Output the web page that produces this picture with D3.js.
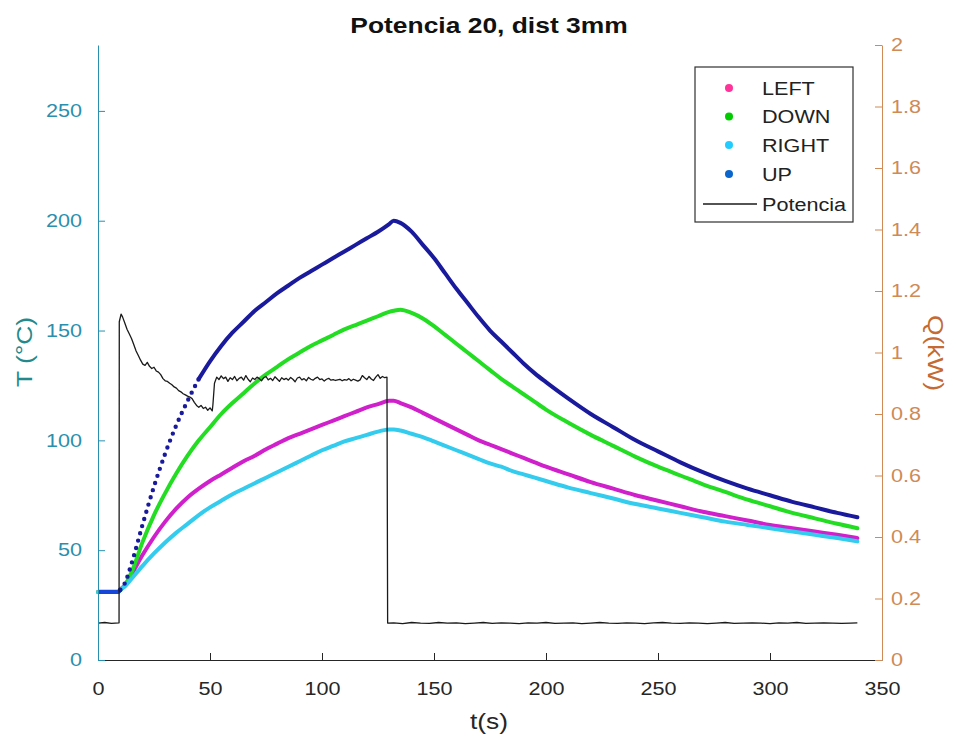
<!DOCTYPE html>
<html>
<head>
<meta charset="utf-8">
<script src="https://cdn.jsdelivr.net/npm/d3@7"></script>
<style>
  body { margin: 0; background: #fff; }
  svg { display: block; }
  text { font-family: "Liberation Sans", Arial, Helvetica, sans-serif; }
</style>
</head>
<body>
<svg id="chart" width="965" height="742"></svg>
<script>
// ---- temperature samples (s, °C) ----
const tTemp = [0,5,9,10,12,15,20,25,30,35,40,45,50,55,60,65,70,75,80,85,90,95,100,105,110,115,120,125,130,132,
  135,140,145,150,155,160,165,170,175,180,185,190,195,200,210,220,230,240,250,260,270,280,290,300,310,320,330,339];

const tempLeft = [31,31,31,32,34,39,48,56,63,69,74,78,81.5,84.5,87.5,90.5,93,96,98.5,101,103,105,107,109,111,113,115,116.5,118,118,
  117,115,112.5,110,107.5,105,102.5,100,98,96,94,92,90,88,84.5,81,78,75,72.5,70,67.5,65.5,63.5,61.5,60,58.5,57,55.5];

const tempDown = [31,31,31,32,34,40,54,66,76,85,93,100,106,112,117,121.5,126,130,133.5,137,140,143,145.5,148,150.5,152.5,154.5,156.5,158.5,159,
  159.5,158,155.5,152,148,144,140,136,132,128,124.5,121,117.5,114,108,102.5,97.5,92.5,88,84,80,76.5,73,70,67,64.5,62,60];

const tempRight = [31,31,31,32,33.5,37,43,48.5,53.5,58,62,66,69.5,72.5,75.5,78,80.5,83,85.5,88,90.5,93,95.5,97.5,99.5,101,102.5,104,105,105,
  104.5,103,101.5,99.5,97.5,95.5,93.5,91.5,89.5,88,86,84.5,83,81.5,78.5,76,73.5,71,69,67,65,63,61.5,60,58.5,57,55.5,54];

const tempUp = [31,31,31,32,35,44,62,79,94,107,118,128,136,143,149,154,159,163,167,170.5,174,177,180,183,186,189,192,195,198.5,200,
  199,195,189,183,176,169,162.5,156,150,145,140,135,130.5,126.5,119,112,106,100,95,90,85.5,81.5,78,75,72,69.5,67,65];

// ---- heater power samples (s, kW), ten per row ----
const tPower = [
  0, 3, 6, 9.4, 9.5, 10.3, 11, 12, 13, 14,
  15, 16, 17, 18, 19, 20, 21, 22, 23, 24,
  25, 26, 27, 28, 29, 30, 31, 32, 33, 34,
  35, 36, 37, 38, 39, 40, 41, 42, 43, 44,
  45, 46, 47, 48, 49, 50, 51, 51.3, 52, 53,
  54, 55, 56, 57, 58, 59, 60, 61, 62, 63,
  64, 65, 66, 67, 68, 69, 70, 71, 72, 73,
  74, 75, 76, 77, 78, 79, 80, 81, 82, 83,
  84, 85, 86, 87, 88, 89, 90, 91, 92, 93,
  94, 95, 96, 97, 98, 99, 100, 101, 102, 103,
  104, 105, 106, 107, 108, 109, 110, 111, 112, 113,
  114, 115, 116, 117, 118, 119, 120, 121, 122, 123,
  124, 125, 126, 127, 128, 129, 129.3, 132, 136, 140,
  144, 148, 152, 156, 160, 164, 168, 172, 176, 180,
  184, 188, 192, 196, 200, 204, 208, 212, 216, 220,
  224, 228, 232, 236, 240, 244, 248, 252, 256, 260,
  264, 268, 272, 276, 280, 284, 288, 292, 296, 300,
  304, 308, 312, 316, 320, 324, 328, 332, 336, 339];

const power = [
  0.12, 0.122, 0.119, 0.121, 1.10, 1.125, 1.115, 1.095, 1.075, 1.06,
  1.045, 1.025, 1.005, 0.99, 0.975, 0.962, 0.958, 0.968, 0.955, 0.948,
  0.952, 0.94, 0.936, 0.928, 0.915, 0.908, 0.906, 0.9, 0.895, 0.888,
  0.884, 0.876, 0.872, 0.866, 0.862, 0.858, 0.855, 0.85, 0.838, 0.828,
  0.822, 0.828, 0.818, 0.822, 0.812, 0.82, 0.81, 0.83, 0.9, 0.92,
  0.912, 0.924, 0.915, 0.92, 0.906, 0.918, 0.912, 0.922, 0.908, 0.916,
  0.92, 0.91, 0.925, 0.913, 0.905, 0.917, 0.912, 0.92, 0.915, 0.908,
  0.918, 0.922, 0.911, 0.916, 0.909, 0.921, 0.914, 0.906, 0.918, 0.912,
  0.916, 0.91, 0.919, 0.913, 0.905, 0.917, 0.92, 0.911, 0.915, 0.908,
  0.919, 0.913, 0.91, 0.916, 0.92, 0.912, 0.914, 0.907, 0.913, 0.916,
  0.91, 0.912, 0.909, 0.911, 0.913, 0.908, 0.912, 0.91, 0.915, 0.908,
  0.913, 0.91, 0.907, 0.911, 0.925, 0.918, 0.912, 0.922, 0.914, 0.909,
  0.92, 0.928, 0.916, 0.922, 0.918, 0.92, 0.12, 0.121, 0.118, 0.122,
  0.12, 0.119, 0.122, 0.12, 0.121, 0.118, 0.12, 0.122, 0.119, 0.121,
  0.12, 0.118, 0.121, 0.12, 0.122, 0.119, 0.12, 0.121, 0.118, 0.12,
  0.122, 0.12, 0.119, 0.121, 0.12, 0.118, 0.121, 0.122, 0.12, 0.119,
  0.121, 0.12, 0.118, 0.12, 0.122, 0.119, 0.12, 0.121, 0.12, 0.118,
  0.121, 0.12, 0.122, 0.119, 0.12, 0.121, 0.12, 0.119, 0.12, 0.121];

const seriesNames = ["LEFT", "DOWN", "RIGHT", "UP"];
const lineColors = ["#d020cc", "#22dd22", "#33ccee", "#1a1a9c"];
const markerColors = ["#ff3399", "#00cc00", "#22ccff", "#0a66cc"];
const timeTicks = [0, 50, 100, 150, 200, 250, 300, 350];
const tempTicks = [0, 50, 100, 150, 200, 250];
const powerTicks = [0, 0.2, 0.4, 0.6, 0.8, 1, 1.2, 1.4, 1.6, 1.8, 2];

const title = "Potencia 20, dist 3mm";
const xLabel = "t(s)";
const yLeftLabel = "T (°C)";
const yRightLabel = "Q(kW)";

// ---- layout ----
const plot = { left: 98, right: 882, top: 45, bottom: 660 };
const leftColor = "#2a8fae";
const leftLabelColor = "#23898c";
const rightColor = "#cf8a55";
const rightLabelColor = "#c46a32";
const textWiden = 1.2;   // glyphs are set a little wider than the base face

const svg = d3.select("#chart");

const x = d3.scaleLinear().domain([0, 350]).range([plot.left, plot.right]);
const yT = d3.scaleLinear().domain([0, 280]).range([plot.bottom, plot.top]);
const yQ = d3.scaleLinear().domain([0, 2]).range([plot.bottom, plot.top]);

// ---- temperature curves ----
const tempSeries = [tempLeft, tempDown, tempRight, tempUp];
const lineGen = (pts) => d3.line()
  .x(d => x(d[0])).y(d => yT(d[1]))
  .curve(d3.curveMonotoneX)(pts);

const curves = svg.append("g").attr("class", "curves");
tempSeries.forEach((vals, i) => {
  const pts = tTemp.map((t, k) => [t, vals[k]]);
  if (seriesNames[i] === "UP") {
    // on the steep rise the samples sit far apart, so they read as separate dots
    const a = pts.filter(p => p[0] <= 10);
    const b = pts.filter(p => p[0] >= 10 && p[0] <= 45);
    const c = pts.filter(p => p[0] >= 45);
    curves.append("path").attr("d", lineGen(a)).attr("fill", "none")
      .attr("stroke", "#1646d8").attr("stroke-width", 4.2);
    curves.append("path").attr("d", lineGen(b)).attr("fill", "none")
      .attr("stroke", lineColors[i]).attr("stroke-width", 4.4)
      .attr("stroke-linecap", "round").attr("stroke-dasharray", "0 7.5");
    curves.append("path").attr("d", lineGen(c)).attr("fill", "none")
      .attr("stroke", lineColors[i]).attr("stroke-width", 4)
      .attr("stroke-linejoin", "round").attr("stroke-linecap", "round");
  } else {
    curves.append("path").attr("d", lineGen(pts)).attr("fill", "none")
      .attr("stroke", lineColors[i]).attr("stroke-width", 4)
      .attr("stroke-linejoin", "round").attr("stroke-linecap", "round");
  }
});

// ---- power curve ----
const powerLine = d3.line().x((d, k) => x(tPower[k])).y(d => yQ(d));
svg.append("path").attr("d", powerLine(power)).attr("fill", "none")
  .attr("stroke", "#1a1a1a").attr("stroke-width", 1.3).attr("stroke-linejoin", "round");

// ---- axes ----
const xAxis = svg.append("g").attr("transform", `translate(0,${plot.bottom})`)
  .call(d3.axisBottom(x).tickValues(timeTicks).tickSize(-7).tickSizeOuter(0).tickPadding(22)
    .tickFormat(d3.format("d")));
xAxis.select(".domain").attr("stroke", "#262626");
xAxis.selectAll(".tick line").attr("stroke", "#262626");
xAxis.selectAll("text").attr("fill", "#262626").attr("font-size", 18);

const lAxis = svg.append("g").attr("transform", `translate(${plot.left},0)`)
  .call(d3.axisLeft(yT).tickValues(tempTicks).tickSize(-7).tickSizeOuter(0).tickPadding(16));
lAxis.select(".domain").attr("stroke", leftColor);
lAxis.selectAll(".tick line").attr("stroke", leftColor);
lAxis.selectAll("text").attr("fill", leftColor).attr("font-size", 18);

const rAxis = svg.append("g").attr("transform", `translate(${plot.right},0)`)
  .call(d3.axisRight(yQ).tickValues(powerTicks).tickSize(-7).tickSizeOuter(0).tickPadding(9)
    .tickFormat(d => d3.format("~g")(d)));
rAxis.select(".domain").attr("stroke", rightColor);
rAxis.selectAll(".tick line").attr("stroke", rightColor);
rAxis.selectAll("text").attr("fill", rightColor).attr("font-size", 18);

// ---- titles ----
svg.append("text").attr("x", 489).attr("y", 33).attr("text-anchor", "middle")
  .attr("font-size", 22).attr("font-weight", "bold").attr("fill", "#111").text(title);
svg.append("text").attr("x", 489).attr("y", 729).attr("text-anchor", "middle")
  .attr("font-size", 22).attr("fill", "#262626").text(xLabel);
svg.append("text").attr("transform", "translate(32,352) rotate(-90)").attr("text-anchor", "middle")
  .attr("font-size", 22).attr("fill", leftLabelColor).text(yLeftLabel);
svg.append("text").attr("transform", "translate(928,353) rotate(90)").attr("text-anchor", "middle")
  .attr("font-size", 22).attr("fill", rightLabelColor).text(yRightLabel);

// ---- legend ----
const legend = svg.append("g").attr("transform", "translate(695,67)");
legend.append("rect").attr("width", 158).attr("height", 155)
  .attr("fill", "#fff").attr("stroke", "#303030").attr("stroke-width", 1.2);
const rowY = [21, 49.5, 78, 107, 137];
seriesNames.forEach((name, i) => {
  legend.append("circle").attr("cx", 34).attr("cy", rowY[i]).attr("r", 4)
    .attr("fill", markerColors[i]);
  legend.append("text").attr("x", 67).attr("y", rowY[i] + 6.5).attr("font-size", 18)
    .attr("fill", "#222").text(name);
});
legend.append("line").attr("x1", 8).attr("x2", 62).attr("y1", rowY[4]).attr("y2", rowY[4])
  .attr("stroke", "#1a1a1a").attr("stroke-width", 1.3);
legend.append("text").attr("x", 67).attr("y", rowY[4] + 6.5).attr("font-size", 18)
  .attr("fill", "#222").text("Potencia");

// widen every label by the same factor, keeping its anchor
svg.selectAll("text").each(function () {
  const w = this.getComputedTextLength();
  d3.select(this).attr("textLength", w * textWiden).attr("lengthAdjust", "spacingAndGlyphs");
});
</script>
</body>
</html>
